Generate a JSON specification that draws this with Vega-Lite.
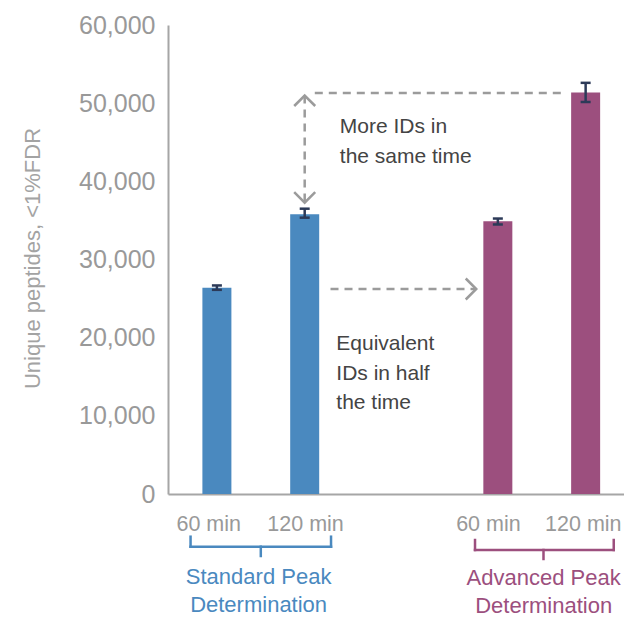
{
  "$schema": "https://vega.github.io/schema/vega-lite/v6.json",
  "width": 456,
  "height": 469,
  "autosize": {"type": "none"},
  "padding": {"left": 168, "top": 25, "right": 0, "bottom": 123},
  "background": "white",
  "config": {"font": "Liberation Sans", "view": {"stroke": null}},
  "datasets": {
    "bars": [
      {"group": "Standard Peak Determination", "time": "60 min", "slot": 0.5, "value": 26400, "lo": 26120, "hi": 26680},
      {"group": "Standard Peak Determination", "time": "120 min", "slot": 1.5, "value": 35800, "lo": 35350, "hi": 36500},
      {"group": "Advanced Peak Determination", "time": "60 min", "slot": 3.7, "value": 34900, "lo": 34480, "hi": 35240},
      {"group": "Advanced Peak Determination", "time": "120 min", "slot": 4.7, "value": 51350, "lo": 50150, "hi": 52600}
    ],
    "arrows": [
      {"x": 1.615, "x2": 4.42, "y": 51300, "y2": 51300},
      {"x": 1.5, "x2": 1.5, "y": 50980, "y2": 37266},
      {"x": 1.794, "x2": 3.454, "y": 26226, "y2": 26226}
    ],
    "heads": [
      {"dir": "up", "x": 1.5, "y": 50980},
      {"dir": "down", "x": 1.5, "y": 37266},
      {"dir": "right", "x": 3.454, "y": 26226}
    ],
    "brackets": [
      {"group": "Standard Peak Determination", "x": 0.2, "x2": 1.8, "y": -6742, "y2": -6742},
      {"group": "Standard Peak Determination", "x": 0.2, "x2": 0.2, "y": -6742, "y2": -5463},
      {"group": "Standard Peak Determination", "x": 1.8, "x2": 1.8, "y": -6742, "y2": -5463},
      {"group": "Standard Peak Determination", "x": 1.0, "x2": 1.0, "y": -6742, "y2": -7932},
      {"group": "Advanced Peak Determination", "x": 3.44, "x2": 5.02, "y": -7164, "y2": -7164},
      {"group": "Advanced Peak Determination", "x": 3.44, "x2": 3.44, "y": -7164, "y2": -5885},
      {"group": "Advanced Peak Determination", "x": 5.02, "x2": 5.02, "y": -7164, "y2": -5885},
      {"group": "Advanced Peak Determination", "x": 4.22, "x2": 4.22, "y": -7164, "y2": -8315}
    ],
    "groupLabels": [
      {"group": "Standard Peak Determination", "label": "Standard Peak\nDetermination", "x": 0.975, "y": -11500},
      {"group": "Advanced Peak Determination", "label": "Advanced Peak\nDetermination", "x": 4.222, "y": -11650}
    ],
    "notes": [
      {"label": "More IDs in\nthe same time", "x": 1.9, "y": 46183},
      {"label": "Equivalent\nIDs in half\nthe time", "x": 1.86, "y": 18422}
    ]
  },
  "layer": [
    {
      "data": {"name": "bars"},
      "mark": {"type": "bar", "width": 29},
      "encoding": {
        "x": {
          "field": "slot", "type": "quantitative", "title": null,
          "scale": {"domain": [0, 5.08], "nice": false, "zero": false},
          "axis": {
            "values": [0.401, 1.504, 3.587, 4.668],
            "labelExpr": "datum.value < 1 || (datum.value > 3 && datum.value < 4) ? '60 min' : '120 min'",
            "title": null, "ticks": false, "grid": false,
            "labelPadding": 19, "labelFontSize": 21.5, "labelColor": "#999999",
            "domainColor": "#a6a6a6", "domainWidth": 2,
            "labelFlush": false, "labelOverlap": false
          }
        },
        "y": {
          "field": "value", "type": "quantitative", "title": "Unique peptides, <1%FDR",
          "scale": {"domain": [0, 60000], "nice": false},
          "axis": {
            "values": [0, 10000, 20000, 30000, 40000, 50000, 60000],
            "format": ",d", "ticks": false, "grid": false,
            "labelPadding": 13, "labelFontSize": 25, "labelColor": "#999999",
            "labelOverlap": false,
            "domainColor": "#a6a6a6", "domainWidth": 2,
            "title": "Unique peptides, <1%FDR",
            "titleFontSize": 22, "titleFontWeight": "normal", "titleColor": "#a3a3a3",
            "titleX": -129, "titleY": 233, "titleBaseline": "alphabetic"
          }
        },
        "color": {
          "field": "group", "type": "nominal",
          "scale": {"domain": ["Standard Peak Determination", "Advanced Peak Determination"], "range": ["#4a89bf", "#9c4f7e"]},
          "legend": null
        }
      }
    },
    {
      "data": {"name": "bars"},
      "mark": {"type": "rule", "color": "#2c3a58", "strokeWidth": 2.5},
      "encoding": {
        "x": {"field": "slot", "type": "quantitative", "title": null, "scale": {"domain": [0, 5.08], "nice": false, "zero": false}},
        "y": {"field": "lo", "type": "quantitative", "title": "Unique peptides, <1%FDR", "scale": {"domain": [0, 60000], "nice": false}},
        "y2": {"field": "hi"}
      }
    },
    {
      "data": {"name": "bars"},
      "mark": {"type": "tick", "orient": "horizontal", "color": "#2c3a58", "size": 10, "thickness": 2.5, "opacity": 1},
      "encoding": {
        "x": {"field": "slot", "type": "quantitative", "title": null, "scale": {"domain": [0, 5.08], "nice": false, "zero": false}},
        "y": {"field": "lo", "type": "quantitative", "title": "Unique peptides, <1%FDR", "scale": {"domain": [0, 60000], "nice": false}}
      }
    },
    {
      "data": {"name": "bars"},
      "mark": {"type": "tick", "orient": "horizontal", "color": "#2c3a58", "size": 10, "thickness": 2.5, "opacity": 1},
      "encoding": {
        "x": {"field": "slot", "type": "quantitative", "title": null, "scale": {"domain": [0, 5.08], "nice": false, "zero": false}},
        "y": {"field": "hi", "type": "quantitative", "title": "Unique peptides, <1%FDR", "scale": {"domain": [0, 60000], "nice": false}}
      }
    },
    {
      "data": {"name": "arrows"},
      "mark": {"type": "rule", "color": "#9b9b9b", "strokeWidth": 2.5, "strokeDash": [8, 6]},
      "encoding": {
        "x": {"field": "x", "type": "quantitative", "title": null, "scale": {"domain": [0, 5.08], "nice": false, "zero": false}},
        "x2": {"field": "x2"},
        "y": {"field": "y", "type": "quantitative", "title": "Unique peptides, <1%FDR", "scale": {"domain": [0, 60000], "nice": false}},
        "y2": {"field": "y2"}
      }
    },
    {
      "data": {"name": "heads"},
      "mark": {"type": "point", "filled": false, "size": 441, "strokeWidth": 2.5, "color": "#9b9b9b", "opacity": 1},
      "encoding": {
        "x": {"field": "x", "type": "quantitative", "title": null, "scale": {"domain": [0, 5.08], "nice": false, "zero": false}},
        "y": {"field": "y", "type": "quantitative", "title": "Unique peptides, <1%FDR", "scale": {"domain": [0, 60000], "nice": false}},
        "shape": {
          "field": "dir", "type": "nominal",
          "scale": {"domain": ["up", "down", "right"], "range": ["M-1,1L0,0L1,1", "M-1,-1L0,0L1,-1", "M-1,-1L0,0L-1,1"]},
          "legend": null
        }
      }
    },
    {
      "data": {"name": "brackets"},
      "mark": {"type": "rule", "strokeWidth": 2.5, "strokeCap": "square"},
      "encoding": {
        "x": {"field": "x", "type": "quantitative", "title": null, "scale": {"domain": [0, 5.08], "nice": false, "zero": false}},
        "x2": {"field": "x2"},
        "y": {"field": "y", "type": "quantitative", "title": "Unique peptides, <1%FDR", "scale": {"domain": [0, 60000], "nice": false}},
        "y2": {"field": "y2"},
        "color": {"field": "group", "type": "nominal", "legend": null}
      }
    },
    {
      "data": {"name": "groupLabels"},
      "mark": {"type": "text", "fontSize": 22, "align": "center", "baseline": "alphabetic", "lineBreak": "\n", "lineHeight": 28},
      "encoding": {
        "x": {"field": "x", "type": "quantitative", "title": null, "scale": {"domain": [0, 5.08], "nice": false, "zero": false}},
        "y": {"field": "y", "type": "quantitative", "title": "Unique peptides, <1%FDR", "scale": {"domain": [0, 60000], "nice": false}},
        "text": {"field": "label"},
        "color": {"field": "group", "type": "nominal", "legend": null}
      }
    },
    {
      "data": {"name": "notes"},
      "mark": {"type": "text", "fontSize": 21, "align": "left", "baseline": "alphabetic", "lineBreak": "\n", "lineHeight": 29.5, "color": "#444444"},
      "encoding": {
        "x": {"field": "x", "type": "quantitative", "title": null, "scale": {"domain": [0, 5.08], "nice": false, "zero": false}},
        "y": {"field": "y", "type": "quantitative", "title": "Unique peptides, <1%FDR", "scale": {"domain": [0, 60000], "nice": false}},
        "text": {"field": "label"}
      }
    }
  ]
}
